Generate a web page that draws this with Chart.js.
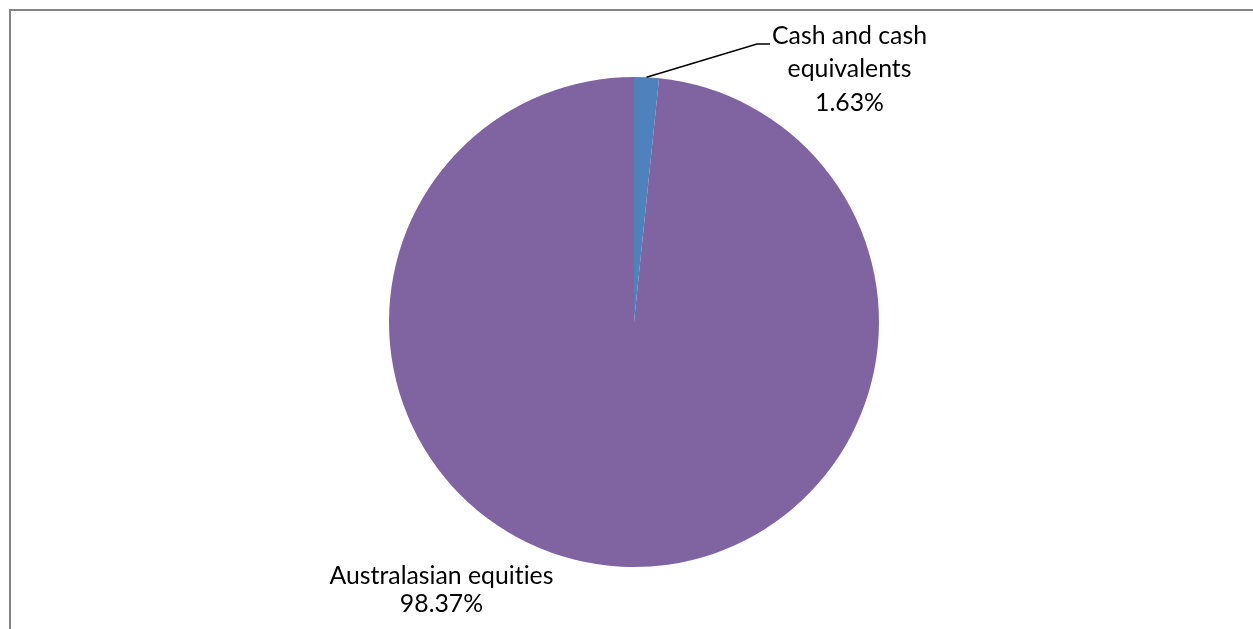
<!DOCTYPE html>
<html>
<head>
<meta charset="utf-8">
<script src="https://cdn.jsdelivr.net/npm/chart.js@4.4.1/dist/chart.umd.min.js"></script>
<style>
  html, body { margin: 0; padding: 0; background: #fff; overflow: hidden; }
  #frame { position: absolute; left: 9px; top: 9px; width: 1400px; height: 800px; border-left: 2px solid #858585; border-top: 2px solid #858585; }
  #wrap { position: absolute; left: 0; top: 0; width: 1253px; height: 629px; }
</style>
</head>
<body>
<div id="frame"></div>
<div id="wrap"><canvas id="c"></canvas></div>
<script>
const categories = ["Cash and cash equivalents", "Australasian equities"];
const labelLines = [["Cash and cash", "equivalents"], ["Australasian equities"]];
const values = [1.63, 98.37];
const colors = ["#4F81BD", "#8064A2"];

const labelPlugin = {
  id: 'pieLabels',
  afterDatasetsDraw(chart) {
    const ctx = chart.ctx;
    const meta = chart.getDatasetMeta(0);
    ctx.save();
    ctx.font = '24.8px Lato, "Open Sans", sans-serif';
    if ('textRendering' in ctx) ctx.textRendering = 'optimizeSpeed';
    ctx.fillStyle = '#000';
    ctx.textAlign = 'center';
    ctx.textBaseline = 'middle';
    const lh = 33.5;
    meta.data.forEach((arc, i) => {
      const p = arc.getProps(['x','y','startAngle','endAngle','outerRadius'], true);
      const mid = (p.startAngle + p.endAngle) / 2;
      const ax = p.x + Math.cos(mid) * p.outerRadius;
      const ay = p.y + Math.sin(mid) * p.outerRadius;
      const lines = labelLines[i].concat([values[i].toFixed(2) + '%']);
      if (i === 0) {
        const ex = p.x + 123, ey = p.y - 278;
        ctx.strokeStyle = '#000';
        ctx.lineWidth = 1.5;
        ctx.beginPath();
        ctx.moveTo(ax, ay);
        ctx.lineTo(ex, ey);
        ctx.lineTo(ex + 13, ey);
        ctx.stroke();
        const cx = p.x + 215.5, cy = p.y - 286;
        lines.forEach((t, k) => ctx.fillText(t, cx, cy + k * lh));
      } else {
        const cx = p.x - 192.5, cy = p.y + 254;
        lines.forEach((t, k) => ctx.fillText(t, cx, cy + k * 28));
      }
    });
    ctx.restore();
  }
};

new Chart(document.getElementById('c'), {
  type: 'pie',
  data: {
    labels: categories,
    datasets: [{ data: values, backgroundColor: colors, borderWidth: 0 }]
  },
  options: {
    responsive: true,
    maintainAspectRatio: false,
    animation: false,
    layout: { padding: { top: 77, bottom: 62, left: 15, right: 0 } },
    plugins: { legend: { display: false }, tooltip: { enabled: false } }
  },
  plugins: [labelPlugin]
});
</script>
</body>
</html>
